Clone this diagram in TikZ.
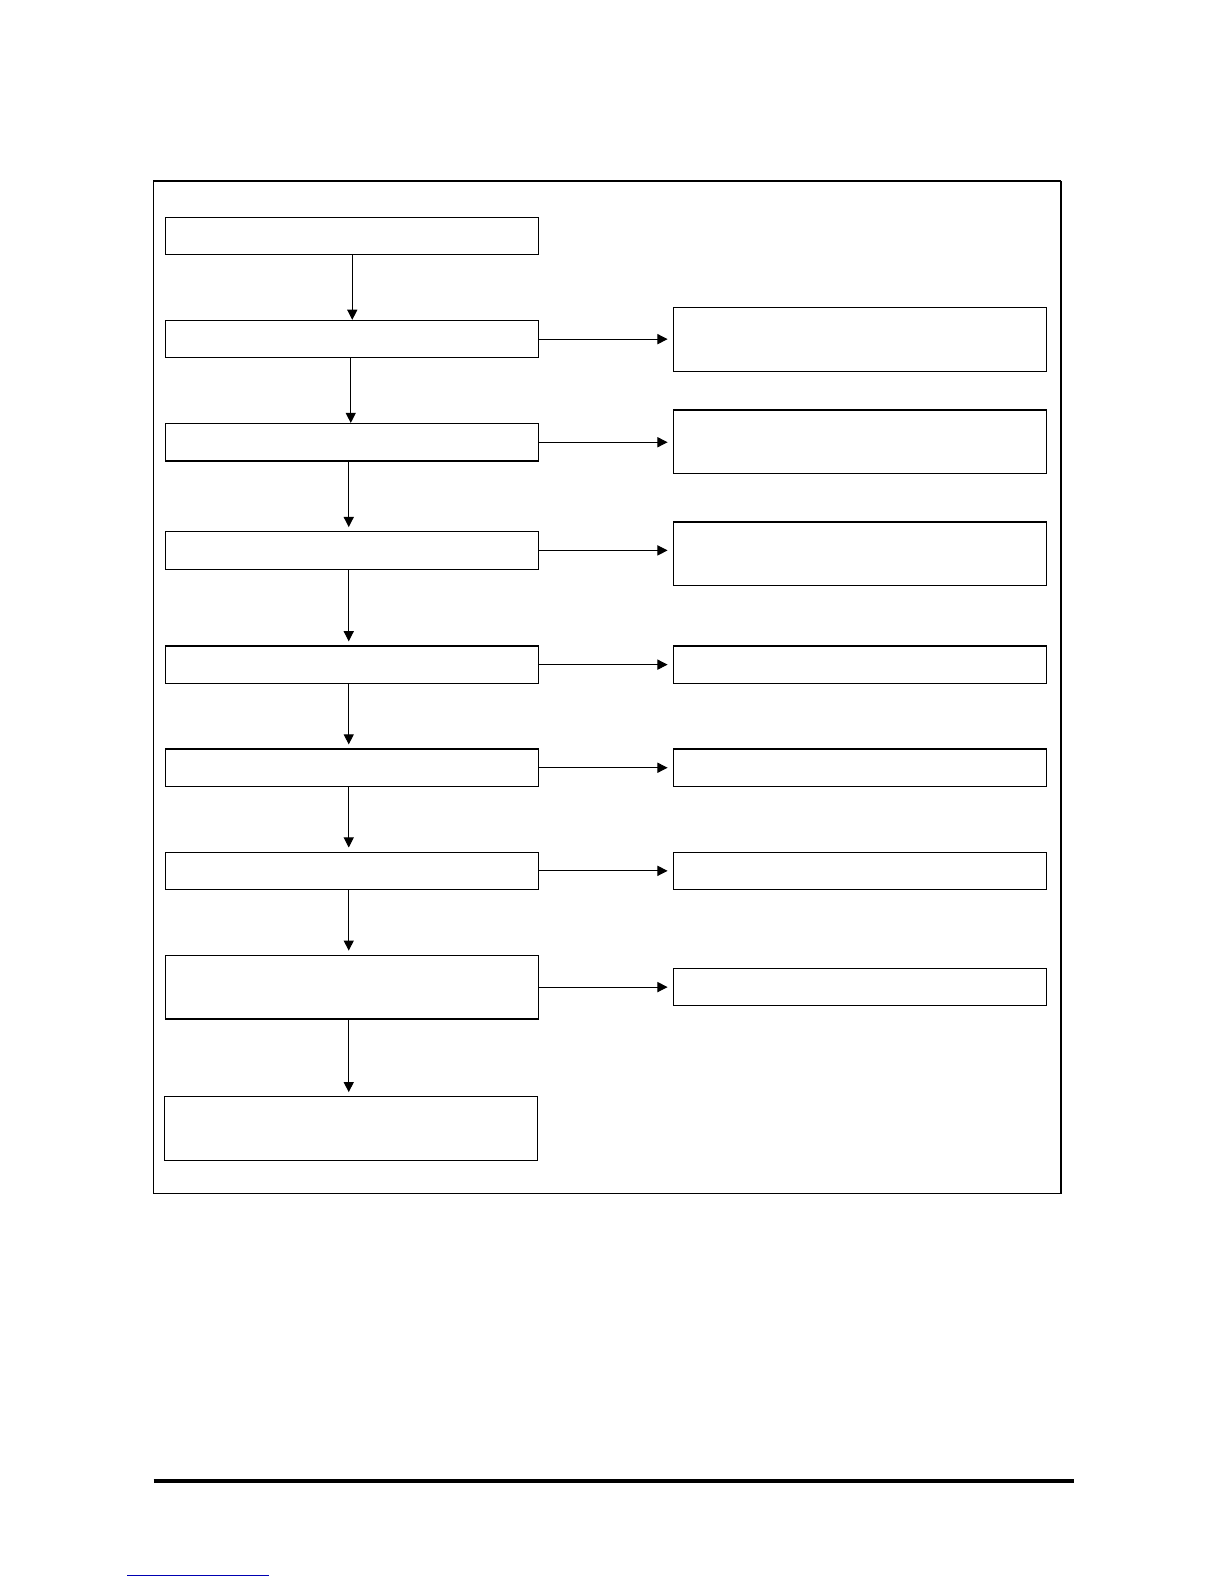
\documentclass[tikz,border=0pt]{standalone}
\usepackage{xcolor}
\usepackage{tikz}
\usetikzlibrary{arrows.meta}

\begin{document}
\begin{tikzpicture}[x=0.5pt,y=-0.5pt,
  stepbox/.style={draw,line width=0.6pt,inner sep=0pt,minimum width=184.5pt,minimum height=18.5pt},
  tallbox/.style={stepbox,minimum height=31.5pt},
  flow/.style={line width=0.5pt,-{Triangle[length=5pt,width=5pt]}}]
\useasboundingbox (0,0) rectangle (1211,1567);

% outer frame
\draw[line width=0.6pt] (152,179) rectangle (1049,1181);
\draw[line width=0.6pt] (1050.2,179)--(1050.2,1181);

% left column
\foreach \n/\y in {1/233.5,2/335.5,3/437.5,4/544.5,5/657.5,6/759.5,7/861.5} {
\node[stepbox] (b\n) at (348.5,\y) {};
}
\node[tallbox] (b8) at (348.5,976.5) {};
\node[tallbox] (b9) at (347,1116.5) {};

% right column
\node[tallbox] (r2) at (850.5,336) {};
\node[tallbox] (r3) at (850.5,437) {};
\node[tallbox] (r4) at (850.5,548) {};
\foreach \n/\y in {5/657.5,6/759.5,7/861.5,8/976.5} {
\node[stepbox] (r\n) at (850.5,\y) {};
}

% down the left column
\draw[flow] (b1.south) -- (b2.north);
\draw[flow] ([xshift=-0.75pt]b2.south) -- ([xshift=-0.75pt]b3.north);
\foreach \a/\b in {3/4,4/5,5/6,6/7,7/8,8/9} {
\draw[flow,shorten >=2pt] ([xshift=-1.75pt]b\a.south) -- ([xshift=-1.75pt]b\a.south |- b\b.north);
}

% across to the right column
\foreach \n in {2,...,8} {
\draw[flow,shorten >=2.5pt] (b\n.east) -- (b\n.east -| r\n.west);
}

% page rule and link
\draw[line width=2pt] (152,1465)--(1062,1465);
\draw[color=blue!70!black,line width=0.5pt] (126,1559)--(266,1559);
\end{tikzpicture}
\end{document}
